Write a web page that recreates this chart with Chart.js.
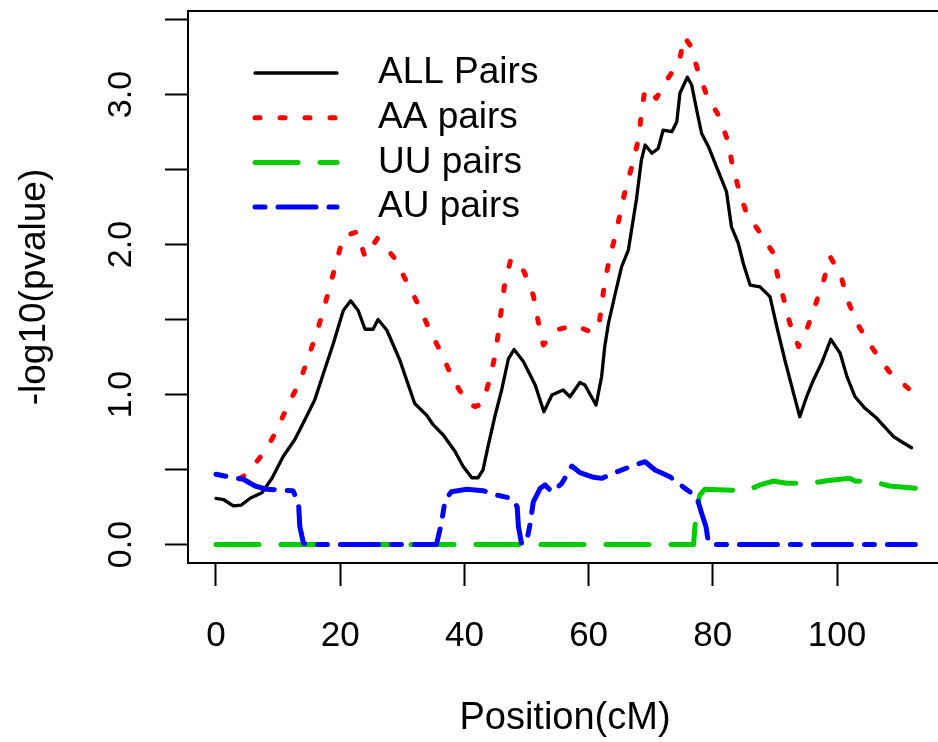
<!DOCTYPE html>
<html><head><meta charset="utf-8">
<script src="https://cdn.jsdelivr.net/npm/chart.js@4.4.1/dist/chart.umd.min.js"></script>
<style>
html,body{margin:0;padding:0;background:#fff;overflow:hidden;width:938px;height:742px}
#wrap{position:absolute;left:0;top:0;width:942px;height:742px}
</style></head>
<body><div id="wrap"><canvas id="c" width="942" height="742"></canvas></div>
<script>
// ---- data ----
const seriesNames = ['ALL Pairs', 'AA pairs', 'UU pairs', 'AU pairs'];
const xTicks = [0, 20, 40, 60, 80, 100];
const yTicks = [0, 0.5, 1, 1.5, 2, 2.5, 3, 3.5];
const xTitle = 'Position(cM)';
const yTitle = '-log10(pvalue)';

const allPos = [0, 1.2, 2.8, 4.1, 5.5, 7.4, 9.0, 10.8, 12.7, 14.3, 15.9, 17.3, 18.9, 20.5, 21.7, 22.9, 24.0, 25.3, 26.1, 27.5, 29.6, 30.7, 32.0, 33.9, 35.0, 36.6, 38.5, 39.8, 41.2, 42.2, 43.0, 43.8, 44.9, 46.0, 47.1, 48.0, 49.5, 51.4, 52.8, 54.1, 55.9, 57.0, 58.6, 59.4, 61.2, 62.1, 62.6, 63.2, 64.3, 65.3, 66.4, 67.7, 68.5, 69.1, 70.2, 71.2, 72.0, 73.4, 74.2, 74.7, 75.9, 76.6, 77.4, 78.2, 79.3, 80.6, 82.2, 83.0, 84.1, 84.9, 86.0, 87.6, 89.2, 90.3, 91.6, 93.0, 94.0, 95.1, 96.2, 97.5, 99.0, 100.5, 101.6, 102.9, 104.5, 106.4, 109.1, 110.4, 112.0];
const allVals = [0.308, 0.30, 0.257, 0.263, 0.308, 0.345, 0.44, 0.585, 0.70, 0.83, 0.963, 1.14, 1.34, 1.56, 1.625, 1.56, 1.435, 1.435, 1.50, 1.43, 1.23, 1.097, 0.94, 0.863, 0.797, 0.73, 0.62, 0.52, 0.445, 0.445, 0.497, 0.652, 0.852, 1.03, 1.24, 1.30, 1.22, 1.063, 0.885, 0.997, 1.03, 0.985, 1.08, 1.063, 0.93, 1.12, 1.32, 1.475, 1.675, 1.85, 1.963, 2.30, 2.563, 2.663, 2.608, 2.64, 2.763, 2.752, 2.818, 3.008, 3.115, 3.063, 2.897, 2.74, 2.652, 2.518, 2.352, 2.118, 2.008, 1.875, 1.73, 1.718, 1.652, 1.452, 1.23, 1.008, 0.852, 0.985, 1.097, 1.208, 1.368, 1.275, 1.119, 0.985, 0.908, 0.841, 0.719, 0.685, 0.645];

const aaPos = [3.8, 4.7, 7.9, 9.8, 11.6, 13.5, 14.9, 16.2, 17.3, 18.4, 19.4, 20.5, 22.7, 24.0, 26.0, 28.6, 30.7, 32.6, 34.4, 36.3, 38.1, 40.3, 41.7, 43.0, 44.1, 44.9, 45.5, 46.0, 46.5, 47.5, 49.6, 51.1, 51.9, 52.7, 55.3, 57.8, 60.2, 61.6, 62.1, 62.6, 63.4, 64.4, 65.2, 66.1, 67.2, 68.1, 68.5, 69.1, 70.9, 72.6, 74.6, 75.4, 76.5, 77.6, 79.0, 81.2, 82.5, 83.2, 84.3, 85.5, 87.3, 89.6, 90.4, 91.4, 92.4, 93.8, 95.1, 96.5, 97.8, 98.9, 100.6, 101.6, 103.2, 105.6, 108.4, 112.1];
const aaVals = [0.44, 0.463, 0.619, 0.763, 0.93, 1.085, 1.252, 1.408, 1.563, 1.73, 1.885, 2.052, 2.085, 1.918, 2.04, 1.918, 1.752, 1.597, 1.43, 1.275, 1.108, 0.952, 0.919, 0.941, 1.108, 1.252, 1.419, 1.585, 1.741, 1.905, 1.82, 1.66, 1.485, 1.33, 1.436, 1.463, 1.419, 1.441, 1.597, 1.752, 1.913, 2.075, 2.23, 2.397, 2.552, 2.719, 2.875, 3.041, 2.975, 3.097, 3.219, 3.385, 3.319, 3.157, 2.997, 2.841, 2.675, 2.518, 2.352, 2.197, 2.097, 1.952, 1.797, 1.641, 1.475, 1.319, 1.43, 1.597, 1.752, 1.918, 1.797, 1.641, 1.475, 1.315, 1.152, 1.019];

const uuPos = [0, 76.9, 77.1, 77.5, 77.9, 78.7, 82.2, 85.5, 87.6, 89.7, 91.9, 95.7, 98.3, 102.1, 102.9, 105.8, 108.5, 112.6];
const uuVals = [0, 0, 0.108, 0.252, 0.33, 0.368, 0.363, 0.359, 0.397, 0.423, 0.408, 0.408, 0.425, 0.441, 0.423, 0.419, 0.39, 0.375];

const auPos = [0, 2.0, 4.4, 6.3, 8.2, 10.3, 12.4, 13.3, 13.5, 14.1, 15.7, 35.5, 36.3, 36.9, 37.9, 40.4, 43.0, 45.2, 47.6, 48.5, 48.7, 49.2, 50.0, 50.6, 51.1, 52.2, 53.0, 54.1, 55.7, 57.3, 58.6, 60.8, 62.1, 64.0, 66.7, 69.1, 70.7, 73.1, 75.3, 77.4, 78.2, 78.9, 79.3, 80.1, 112.6];
const auVals = [0.468, 0.452, 0.435, 0.39, 0.368, 0.363, 0.359, 0.275, 0.119, 0.008, 0, 0, 0.141, 0.297, 0.352, 0.368, 0.359, 0.33, 0.308, 0.252, 0.119, 0.008, 0.012, 0.141, 0.285, 0.375, 0.397, 0.35, 0.408, 0.523, 0.479, 0.448, 0.441, 0.475, 0.519, 0.552, 0.497, 0.452, 0.381, 0.319, 0.208, 0.119, 0.012, 0, 0];

// ---- chart ----
const FONT = 'Liberation Sans, Arial, Helvetica, sans-serif';
Chart.defaults.font.family = FONT;
Chart.defaults.color = '#000';

function pts(xs, ys) { return xs.map((x, i) => ({ x: x, y: ys[i] })); }

const framePlugin = {
  id: 'frame',
  afterDraw(chart) {
    const { ctx, chartArea: a } = chart;
    ctx.save();
    ctx.strokeStyle = '#000';
    ctx.lineWidth = 2;
    ctx.setLineDash([]);
    ctx.strokeRect(a.left, a.top, a.right - a.left, a.bottom - a.top);
    ctx.restore();
  }
};

const legendPlugin = {
  id: 'rlegend',
  afterDraw(chart, args, o) {
    const { ctx, chartArea: a } = chart;
    ctx.save();
    chart.data.datasets.forEach((ds, i) => {
      const y = a.top + o.top + i * o.spacing;
      const x0 = a.left + o.left;
      ctx.beginPath();
      ctx.strokeStyle = ds.borderColor;
      ctx.lineWidth = ds.borderWidth;
      ctx.setLineDash(ds.borderDash || []);
      ctx.lineCap = ds.borderCapStyle || 'butt';
      ctx.moveTo(x0, y);
      ctx.lineTo(x0 + o.lineLen, y);
      ctx.stroke();
      ctx.setLineDash([]);
      ctx.fillStyle = '#000';
      ctx.font = o.font;
      ctx.textBaseline = 'middle';
      ctx.textAlign = 'left';
      ctx.fillText(ds.label, x0 + o.textGap, y);
    });
    ctx.restore();
  }
};

new Chart(document.getElementById('c'), {
  type: 'line',
  data: {
    datasets: [
      { label: seriesNames[0], data: pts(allPos, allVals), borderColor: '#000000', borderWidth: 3.3, borderCapStyle: 'round', borderJoinStyle: 'round', order: 4 },
      { label: seriesNames[1], data: pts(aaPos, aaVals), borderColor: '#FF0000', borderWidth: 5, borderDash: [5, 20], borderCapStyle: 'round', borderJoinStyle: 'round', order: 3 },
      { label: seriesNames[2], data: pts(uuPos, uuVals), borderColor: '#00CD00', borderWidth: 5, borderDash: [43, 22], borderCapStyle: 'round', borderJoinStyle: 'round', order: 2 },
      { label: seriesNames[3], data: pts(auPos, auVals), borderColor: '#0000FF', borderWidth: 5, borderDash: [10, 13, 38, 13], borderCapStyle: 'round', borderJoinStyle: 'round', order: 1 }
    ]
  },
  options: {
    responsive: false,
    animation: false,
    devicePixelRatio: 1,
    events: [],
    elements: { point: { radius: 0 }, line: { tension: 0, fill: false } },
    layout: { padding: { left: 0, top: 11, right: 0, bottom: 0 } },
    scales: {
      x: {
        type: 'linear',
        min: -4.5,
        max: 116.9,
        afterBuildTicks(s) { s.ticks = xTicks.map(v => ({ value: v })); },
        afterFit(s) { s.height = 179; s.paddingLeft = 0; s.paddingRight = 0; },
        grid: { drawOnChartArea: false, drawTicks: true, tickLength: 23, tickWidth: 2, tickColor: '#000' },
        border: { display: true, color: '#000', width: 2 },
        ticks: { autoSkip: false, maxRotation: 0, minRotation: 0, padding: 29, color: '#000', font: { size: 35 }, callback: v => String(v) },
        title: { display: true, text: xTitle, color: '#000', font: { size: 38 }, padding: { top: 0, bottom: 1 } }
      },
      y: {
        type: 'linear',
        min: -0.1233,
        max: 3.5567,
        afterBuildTicks(s) { s.ticks = yTicks.map(v => ({ value: v })); },
        afterFit(s) { s.width = 188; s.paddingTop = 0; s.paddingBottom = 0; },
        grid: { drawOnChartArea: false, drawTicks: true, tickLength: 23, tickWidth: 2, tickColor: '#000' },
        border: { display: true, color: '#000', width: 2 },
        ticks: {
          autoSkip: false, minRotation: 90, maxRotation: 90, crossAlign: 'center', padding: 20,
          color: '#000', font: { size: 34 },
          callback: v => (Math.abs(v - Math.round(v)) < 1e-9 ? v.toFixed(1) : '')
        },
        title: { display: true, text: yTitle, color: '#000', font: { size: 37 }, padding: { top: 13, bottom: 0 } }
      }
    },
    plugins: {
      legend: { display: false },
      tooltip: { enabled: false },
      rlegend: { left: 67, top: 62, spacing: 44.7, lineLen: 82, textGap: 123, font: '37px ' + FONT }
    }
  },
  plugins: [framePlugin, legendPlugin]
});
</script>
</body></html>
